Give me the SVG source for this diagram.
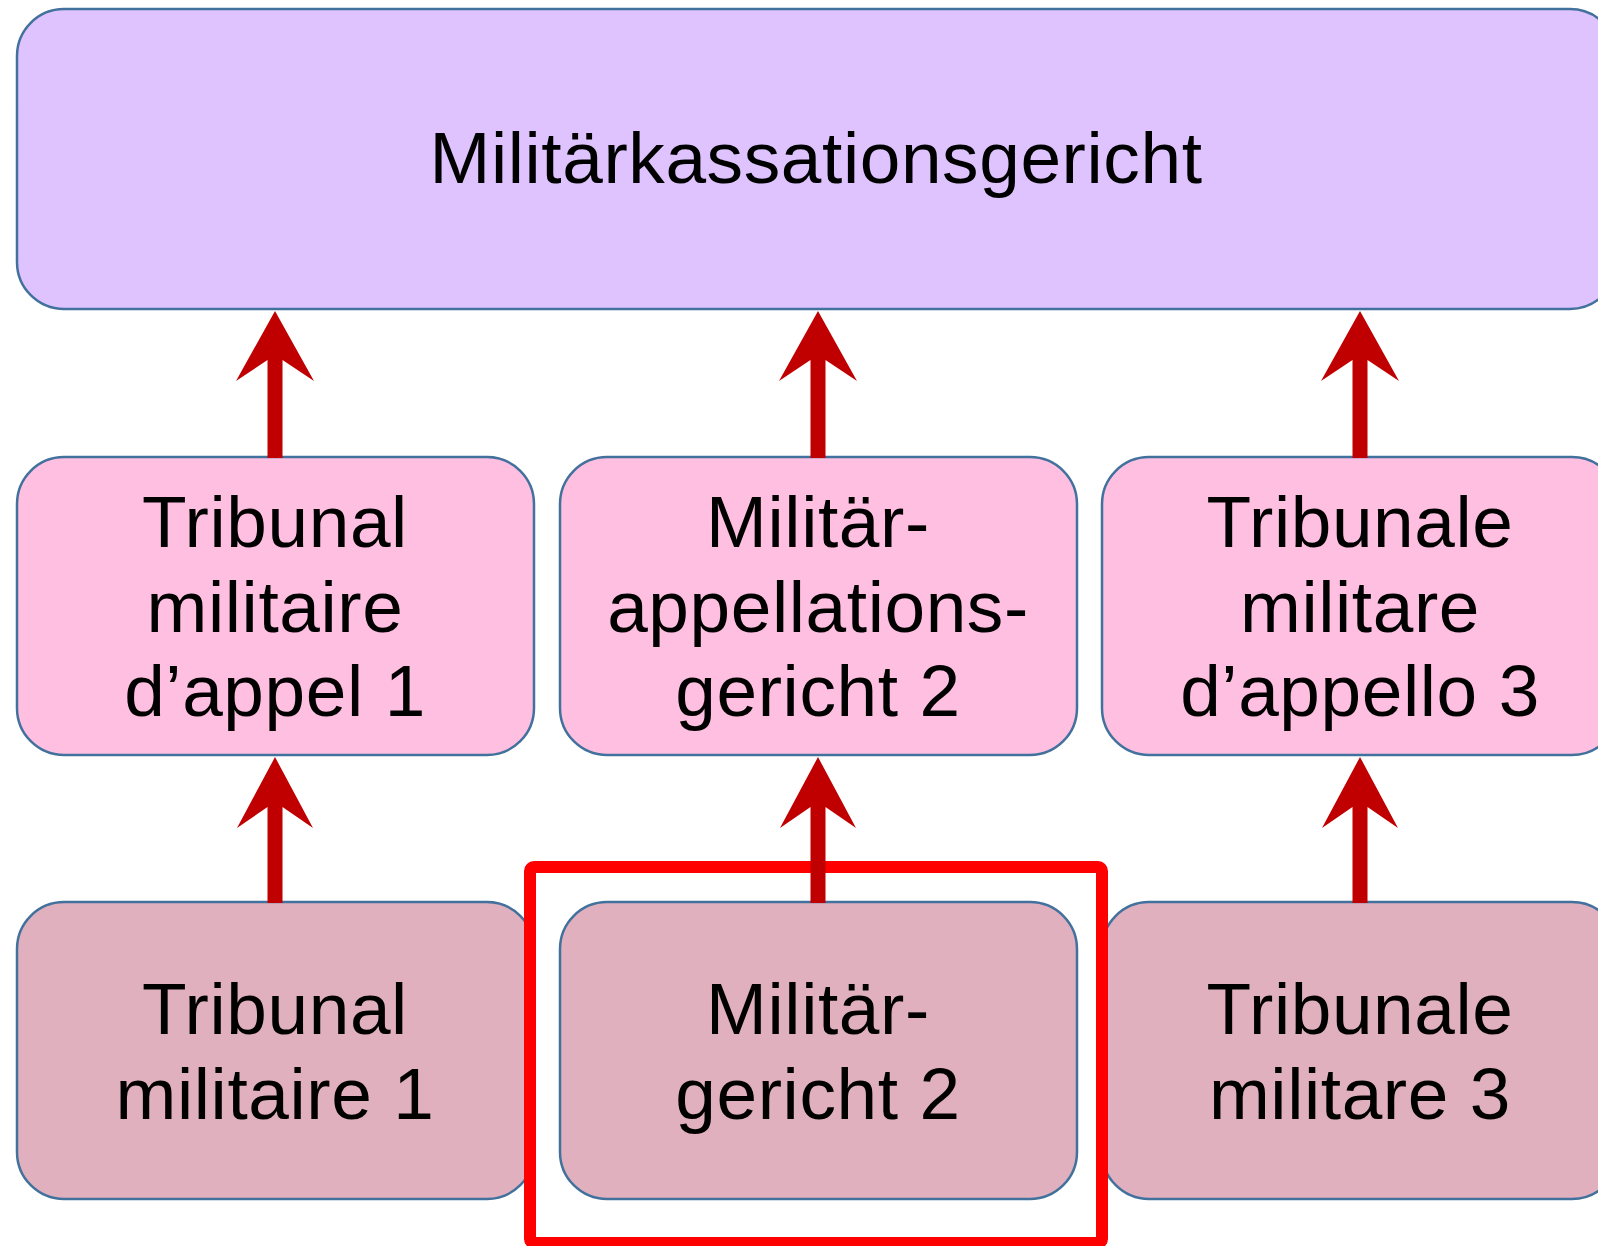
<svg xmlns="http://www.w3.org/2000/svg" width="1598" height="1246" viewBox="0 0 1598 1246">
<style>
.box{stroke:#41719C;stroke-width:2.5}
.top{fill:#DFC3FE}
.mid{fill:#FEBFE0}
.bot{fill:#E0B0BE}
.t{font-family:"Liberation Sans",Arial,sans-serif;font-size:73px;letter-spacing:0.6px;fill:#000;text-anchor:middle}
.arrow{fill:#C00000}
.hl{fill:#FFFFFF;stroke:#FF0000;stroke-width:12}
</style>
<rect width="1598" height="1246" fill="#FFFFFF"/>
<g id="n-top">
<rect class="box top" x="17" y="9" width="1600" height="300" rx="47"/>
<text class="t" x="816" y="183">Militärkassationsgericht</text>
</g>
<g id="n-appel1">
<rect class="box mid" x="17" y="457" width="517" height="298" rx="47"/>
<text class="t" x="275" y="547">Tribunal</text>
<text class="t" x="275" y="632">militaire</text>
<text class="t" x="275" y="716">d’appel 1</text>
</g>
<g id="n-appel2">
<rect class="box mid" x="560" y="457" width="517" height="298" rx="47"/>
<text class="t" x="818" y="547">Militär-</text>
<text class="t" x="818" y="632">appellations-</text>
<text class="t" x="818" y="716">gericht 2</text>
</g>
<g id="n-appel3">
<rect class="box mid" x="1102" y="457" width="517" height="298" rx="47"/>
<text class="t" x="1360" y="547">Tribunale</text>
<text class="t" x="1360" y="632">militare</text>
<text class="t" x="1360" y="716">d’appello 3</text>
</g>
<g id="n-mil1">
<rect class="box bot" x="17" y="902" width="517" height="297" rx="47"/>
<text class="t" x="275" y="1034">Tribunal</text>
<text class="t" x="275" y="1119">militaire 1</text>
</g>
<g id="n-mil3">
<rect class="box bot" x="1102" y="902" width="517" height="297" rx="47"/>
<text class="t" x="1360" y="1034">Tribunale</text>
<text class="t" x="1360" y="1119">militare 3</text>
</g>
<g id="highlight">
<rect class="hl" x="530" y="867" width="572" height="376" rx="4"/>
</g>
<g id="n-mil2">
<rect class="box bot" x="560" y="902" width="517" height="297" rx="47"/>
<text class="t" x="818" y="1034">Militär-</text>
<text class="t" x="818" y="1119">gericht 2</text>
</g>
<g id="connectors">
<path class="arrow" d="M275,311 L314,381 L282.5,360 L282.5,458 L267.5,458 L267.5,360 L236,381 Z"/>
<path class="arrow" d="M818,311 L857,381 L825.5,360 L825.5,458 L810.5,458 L810.5,360 L779,381 Z"/>
<path class="arrow" d="M1360,311 L1399,381 L1367.5,360 L1367.5,458 L1352.5,458 L1352.5,360 L1321,381 Z"/>
<path class="arrow" d="M275,757 L313,828 L282.5,807 L282.5,903 L267.5,903 L267.5,807 L237,828 Z"/>
<path class="arrow" d="M818,757 L856,828 L825.5,807 L825.5,903 L810.5,903 L810.5,807 L780,828 Z"/>
<path class="arrow" d="M1360,757 L1398,828 L1367.5,807 L1367.5,903 L1352.5,903 L1352.5,807 L1322,828 Z"/>
</g>
</svg>
